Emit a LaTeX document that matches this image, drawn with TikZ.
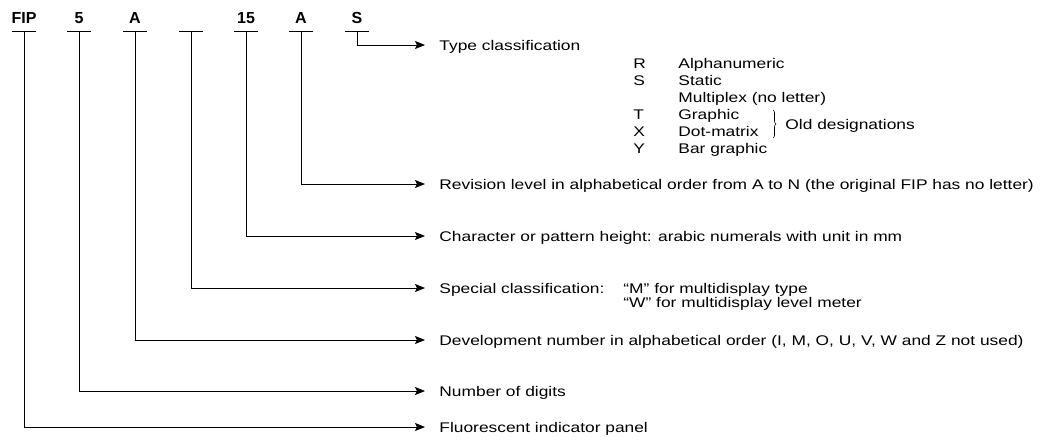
\documentclass[tikz,border=0pt]{standalone}
\usepackage{fontspec}
\setmainfont{Liberation Sans}[FakeStretch=1.24]
\newfontfamily\labfont{Liberation Sans}
\usetikzlibrary{arrows.meta,decorations.pathreplacing}
\begin{document}
\begin{tikzpicture}[x=1pt,y=-1pt, line width=0.9pt,
  lab/.style={font=\labfont\fontsize{16}{16}\selectfont\bfseries, anchor=base, inner sep=0pt},
  desc/.style={font=\fontsize{14}{12}\selectfont, anchor=base west, inner sep=0pt},
  conn/.style={-{Stealth[length=10pt,width=8pt,inset=2pt]}},
  bar/.style={line width=0.9pt}]
\useasboundingbox (0,0) rectangle (1044,440);
% top labels
\node[lab] (l1) at (24,23) {FIP};
\node[lab] (l2) at (79,23) {5};
\node[lab] (l3) at (135,23) {A};
\coordinate (l4) at (191,23);
\node[lab] (l5) at (246,23) {15};
\node[lab] (l6) at (301,23) {A};
\node[lab] (l7) at (357,23) {S};
% bars
\foreach \i/\x in {1/24,2/79,3/135,4/191,5/246,6/301,7/357}{
  \draw[bar] (\x-12,31) -- (\x+12,31);
  \coordinate (b\i) at (\x,31);
}
% arrow ends
\foreach \i/\y in {7/45,6/184,5/236,4/288,3/340,2/391,1/427}{
  \coordinate (e\i) at (425,\y);
}
% descriptions
\node[desc] (t7) at (439,50) {Type classification};
\node[desc] (t6) at (439,189) {Revision level in alphabetical order from A to N (the original FIP has no letter)};
\node[desc] (t5) at (439,241) {Character or pattern height: arabic numerals with unit in mm};
\node[desc] (t4) at (439,293) {Special classification:};
\node[desc] (t4a) at (623,293) {“M” for multidisplay type};
\node[desc] (t4b) at (623,307) {“W” for multidisplay level meter};
\node[desc] (t3) at (439,345) {Development number in alphabetical order (I, M, O, U, V, W and Z not used)};
\node[desc] (t2) at (439,396) {Number of digits};
\node[desc] (t1) at (439,432) {Fluorescent indicator panel};
% type table
\foreach \n/\k/\v/\y in {r1/R/Alphanumeric/68, r2/S/Static/85, r3//Multiplex (no letter)/102, r4/T/Graphic/119, r5/X/Dot-matrix/136, r6/Y/Bar graphic/153}{
  \node[desc] (\n k) at (633,\y) {\k};
  \node[desc] (\n v) at (678,\y) {\v};
}
\draw[line width=0.6pt, decorate, decoration={brace, amplitude=3pt}] (773,110) -- (773,138);
\node[desc] (old) at (785,129) {Old designations};
% connectors
\foreach \i in {1,...,7}{
  \draw[conn] (b\i) |- (e\i);
}
\end{tikzpicture}
\end{document}
